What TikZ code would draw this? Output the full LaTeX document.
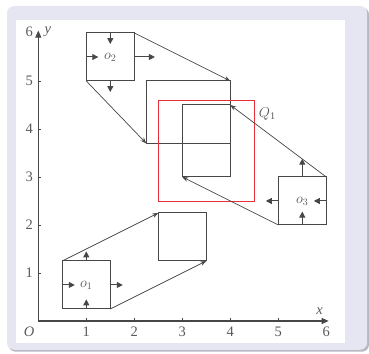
\documentclass[tikz,border=0pt]{standalone}
\usepackage{fontspec}
\setmainfont{Liberation Serif}
\usepackage{tikz}
\usetikzlibrary{arrows.meta}

\definecolor{frameback}{HTML}{E6E6F2}
\definecolor{frameshade}{HTML}{B8B8C4}
\definecolor{inkgray}{HTML}{474747}
\definecolor{qred}{HTML}{E8303A}

\begin{document}
\begin{tikzpicture}[
  x=48pt, y=48pt,
  font=\fontsize{14.5}{16}\selectfont, text=inkgray!90,
  sq/.style={draw=inkgray, line width=1pt, inner sep=0pt, outer sep=0pt, minimum width=48pt, minimum height=48pt},
  axis/.style={draw=inkgray, line width=1.1pt, -{Triangle[length=7pt, width=6pt]}},
  sarr/.style={draw=inkgray, line width=1pt, -{Triangle[length=6pt, width=6pt]}},
  move/.style={draw=inkgray, line width=0.7pt, -{Stealth[length=6pt, width=4.5pt]}}]
% frame
\useasboundingbox (-0.798,-0.6875) rectangle (6.89,6.6875);
\fill[frameshade, rounded corners=7pt] (-0.62,-0.64) rectangle (6.89,6.53);
\fill[frameback, rounded corners=7pt] (-0.652,-0.60) rectangle (6.85,6.5625);
\fill[white] (-0.465,-0.458) rectangle (6.39,6.27);
% axes
\draw[axis] (0,0) -- (6.05,0);
\draw[axis] (0,0) -- (0,6.05);
\foreach \k in {1,...,5} {
  \draw[inkgray, line width=0.7pt] (\k,0) -- (\k,0.06);
  \draw[inkgray, line width=0.7pt] (0,\k) -- (0.06,\k);
  \node (xl\k) at (\k,-0.22) {\k};
  \node (yl\k) at (-0.19,\k) {\k};
}
\node (xl6) at (6,-0.22) {6};
\node (yl6) at (-0.19,6.02) {6};
\node (orig) at (-0.19,-0.22) {\textit{O}};
\node (xlab) at (5.86,0.2) {\textit{x}};
\node (ylab) at (0.2,6.02) {\textit{y}};
% original squares
\node[sq] (o1) at (1,0.75) {$o_1$};
\node[sq] (o2) at (1.5,5.5) {$o_2$};
\node[sq] (o3) at (5.5,2.5) {$o_3$};
% images
\node[sq] (t1) at (3,1.75) {};
\node[sq, minimum width=84pt, minimum height=62.4pt] (s2) at (3.125,4.35) {};
\node[sq, minimum height=72pt] (r3) at (3.5,3.75) {};
\node[draw=qred, line width=0.9pt, inner sep=0pt, outer sep=0pt, minimum width=96pt, minimum height=100.8pt] (q1) at (3.5,3.55) {};
\node (q1lab) at (4.77,4.32) {$Q_{\mathrm{1}}$};
% moves
\draw[move] (o1.north west) -- (t1.north west);
\draw[move] (o1.south east) -- (t1.south east);
\draw[move] (o2.south west) -- (s2.south west);
\draw[move] (o2.north east) -- (s2.north east);
\draw[move] (o3.north east) -- (r3.north east);
\draw[move] (o3.south west) -- (r3.south west);
% forces on o1
\draw[sarr] (o1.west) -- ++(0.26,0);
\draw[sarr] (o1.east) -- ++(0.26,0);
\draw[sarr] (o1.south) -- ++(0,0.2);
\draw[sarr] (o1.north) -- ++(0,0.2);
% forces on o2
\draw[sarr] (o2.west) -- ++(0.25,0);
\draw[sarr] (o2.east) -- ++(0.43,0);
\draw[sarr] (o2.north) -- ++(0,-0.23);
\draw[sarr] (o2.south) -- ++(0,-0.23);
% forces on o3
\draw[sarr] (o3.east) -- ++(-0.26,0);
\draw[sarr] (o3.west) -- ++(-0.26,0);
\draw[sarr] (o3.south) -- ++(0,0.28);
\draw[sarr] (o3.north) -- ++(0,0.38);
\end{tikzpicture}
\end{document}
